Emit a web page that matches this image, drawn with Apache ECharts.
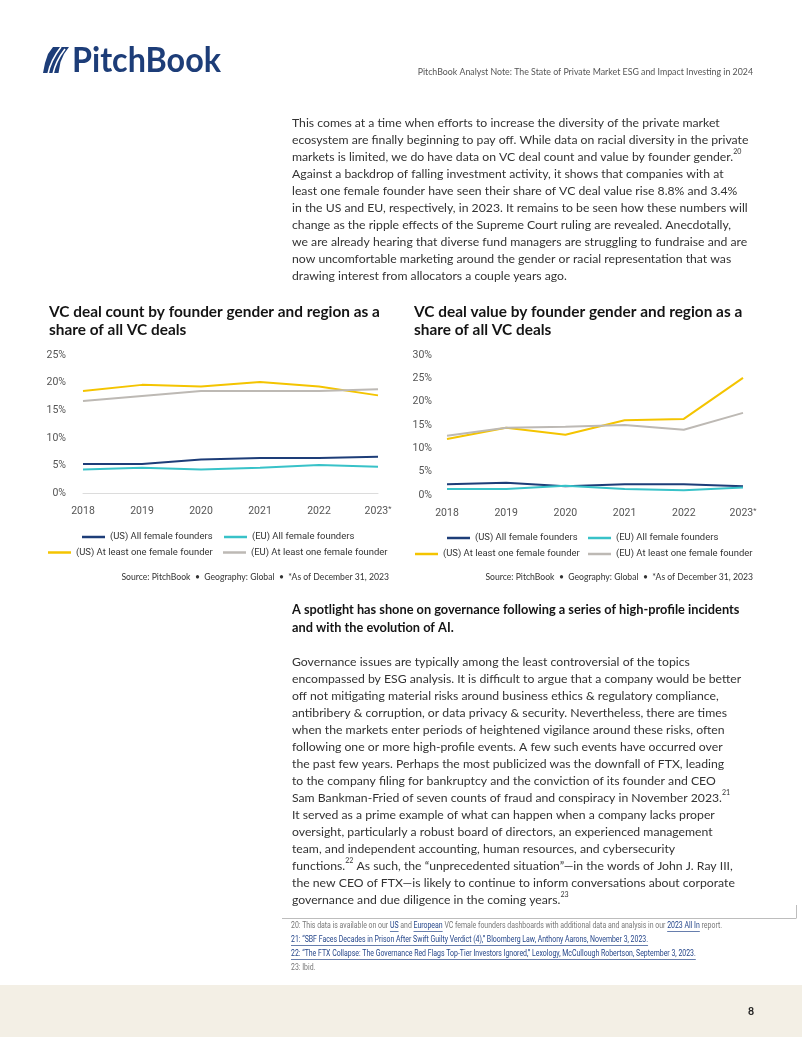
<!DOCTYPE html>
<html><head><meta charset="utf-8">
<script src="https://cdn.jsdelivr.net/npm/echarts@6/dist/echarts.min.js"></script>
<style>html,body{margin:0;padding:0;background:#fff}#c{width:802px;height:1037px}</style>
</head><body><div id="c"></div>
<script>
// ---------- DATA ----------
const years = ['2018','2019','2020','2021','2022','2023*'];
const seriesNames = ['(US) All female founders','(EU) All female founders','(US) At least one female founder','(EU) At least one female founder'];
// VC deal count share (%)
const countUSAll = [5.3,5.3,6.1,6.4,6.4,6.6];
const countEUAll = [4.3,4.6,4.3,4.6,5.1,4.8];
const countUSOne = [18.5,19.6,19.3,20.1,19.3,17.7];
const countEUOne = [16.7,17.6,18.5,18.5,18.5,18.8];
// VC deal value share (%)
const valueUSAll = [2.3,2.6,1.9,2.3,2.3,1.9];
const valueEUAll = [1.3,1.3,2.0,1.3,1.0,1.6];
const valueUSOne = [12.0,14.4,12.9,16.0,16.3,25.1];
const valueEUOne = [12.7,14.4,14.6,15.0,14.0,17.6];
// axis ranges
const countAxis = {min:0, max:25, interval:5};
const valueAxis = {min:0, max:30, interval:5};
// texts
const chart1Title = ['VC deal count by founder gender and region as a','share of all VC deals'];
const chart2Title = ['VC deal value by founder gender and region as a','share of all VC deals'];
const sourceText = 'Source: PitchBook  \u2022  Geography: Global  \u2022  *As of December 31, 2023';
const headerText = 'PitchBook Analyst Note: The State of Private Market ESG and Impact Investing in 2024';
const para1 = [
 'This comes at a time when efforts to increase the diversity of the private market',
 'ecosystem are finally beginning to pay off. While data on racial diversity in the private',
 'markets is limited, we do have data on VC deal count and value by founder gender.{sup|20}',
 'Against a backdrop of falling investment activity, it shows that companies with at',
 'least one female founder have seen their share of VC deal value rise 8.8% and 3.4%',
 'in the US and EU, respectively, in 2023. It remains to be seen how these numbers will',
 'change as the ripple effects of the Supreme Court ruling are revealed. Anecdotally,',
 'we are already hearing that diverse fund managers are struggling to fundraise and are',
 'now uncomfortable marketing around the gender or racial representation that was',
 'drawing interest from allocators a couple years ago.'
];
const heading2 = ['A spotlight has shone on governance following a series of high-profile incidents','and with the evolution of AI.'];
const para2 = [
 'Governance issues are typically among the least controversial of the topics',
 'encompassed by ESG analysis. It is difficult to argue that a company would be better',
 'off not mitigating material risks around business ethics & regulatory compliance,',
 'antibribery & corruption, or data privacy & security. Nevertheless, there are times',
 'when the markets enter periods of heightened vigilance around these risks, often',
 'following one or more high-profile events. A few such events have occurred over',
 'the past few years. Perhaps the most publicized was the downfall of FTX, leading',
 'to the company filing for bankruptcy and the conviction of its founder and CEO',
 'Sam Bankman-Fried of seven counts of fraud and conspiracy in November 2023.{sup|21}',
 'It served as a prime example of what can happen when a company lacks proper',
 'oversight, particularly a robust board of directors, an experienced management',
 'team, and independent accounting, human resources, and cybersecurity',
 'functions.{sup|22} As such, the \u201cunprecedented situation\u201d\u2014in the words of John J. Ray III,',
 'the new CEO of FTX\u2014is likely to continue to inform conversations about corporate',
 'governance and due diligence in the coming years.{sup|23}'
];
const footnotes = [
 [['20: This data is available on our ',0],['US',1],[' and ',0],['European',1],[' VC female founders dashboards with additional data and analysis in our ',0],['2023 All In',1],[' report.',0]],
 [['21: \u201cSBF Faces Decades in Prison After Swift Guilty Verdict (4),\u201d Bloomberg Law, Anthony Aarons, November 3, 2023.',1]],
 [['22: \u201cThe FTX Collapse: The Governance Red Flags Top-Tier Investors Ignored,\u201d Lexology, McCullough Robertson, September 3, 2023.',1]],
 [['23: Ibid.',0]]
];
const pageNumber = '8';

// ---------- STYLE ----------
const NAVY='#1d3d78', TEAL='#38c2c8', YELLOW='#f4c400', GREY='#bdb9b4';
const colors=[NAVY,TEAL,YELLOW,GREY];
const BODY='Lato', NARROW='Roboto';
const ctx=document.createElement('canvas').getContext('2d');
function mw(t,size,fam,wt){ctx.font=(wt||'normal')+' '+size+'px '+fam;return ctx.measureText(t.replace(/\{sup\|(\d+)\}/g,'')).width;}
function fit(t,target,fam,wt){return 20*target/mw(t,20,fam,wt);}

const bodySize=fit(para1[0],428,BODY);
const headSize=fit(heading2[0],447.6,BODY,'bold');
const titleSize=fit(chart1Title[0],331,BODY,'bold');
const legSize=fit(seriesNames[2],137,NARROW);
const tickSize=10.5;
const srcSize=fit(sourceText,268,BODY);
const hdrSize=fit(headerText,336,BODY);

const G=[];
function txt(x,y,text,o){o=o||{};
  const el={type:'text',x:x,y:y,z:10,silent:true,style:{text:text,fill:o.fill||'#333',fontFamily:o.family||BODY,fontSize:o.size,fontWeight:o.weight||'normal',align:o.align||'left',verticalAlign:'middle'}};
  if(o.lh) el.style.lineHeight=o.lh;
  if(o.rich) el.style.rich=o.rich;
  if(o.sx){el.scaleX=o.sx;}
  G.push(el);return el;}

// footer band
G.push({type:'rect',shape:{x:0,y:985,width:802,height:52},style:{fill:'#f3efe5'},silent:true});
txt(751,1012,pageNumber,{size:10.5,weight:'bold',fill:'#222',align:'center'});
// logo mark
G.push({type:'polygon',shape:{points:[[53,47],[69,47],[64,54],[60.5,62],[58.5,73],[43,73],[45,63],[48,54]]},style:{fill:NAVY},silent:true});
G.push({type:'bezierCurve',shape:{x1:48,y1:74,cpx1:50,cpy1:63,cpx2:54,cpy2:56,x2:61,y2:47},style:{stroke:'#fff',lineWidth:1.6,fill:null},silent:true});
G.push({type:'bezierCurve',shape:{x1:53,y1:74,cpx1:55,cpy1:64,cpx2:58,cpy2:58,x2:65,y2:49},style:{stroke:'#fff',lineWidth:1.6,fill:null},silent:true});
const logoSize=34;
txt(72,61,'PitchBook',{size:logoSize,weight:'bold',fill:NAVY,sx:149/mw('PitchBook',logoSize,BODY,'bold')});
txt(753,72,headerText,{size:hdrSize,fill:'#555',align:'right'});
// paragraphs
const supRich=(size,fill)=>({sup:{fontSize:size*0.58,lineHeight:11.5,verticalAlign:'top',fill:fill,fontFamily:BODY}});
para1.forEach((l,i)=>txt(292,123+i*17,l,{size:bodySize,fill:'#333',lh:17,rich:supRich(bodySize,'#333')}));
heading2.forEach((l,i)=>txt(292,610+i*18,l,{size:headSize,weight:'bold',fill:'#141414'}));
para2.forEach((l,i)=>txt(292,662+i*17,l,{size:bodySize,fill:'#333',lh:17,rich:supRich(bodySize,'#333')}));
// chart titles
chart1Title.forEach((l,i)=>txt(49,312+i*18.5,l,{size:titleSize,weight:'bold',fill:'#141414'}));
chart2Title.forEach((l,i)=>txt(414,312+i*18.5,l,{size:titleSize,weight:'bold',fill:'#141414'}));
// sources
txt(389,577,sourceText,{size:srcSize,fill:'#333',align:'right'});
txt(753,577,sourceText,{size:srcSize,fill:'#333',align:'right'});
// footnote box lines
G.push({type:'line',shape:{x1:282,y1:918.5,x2:796,y2:918.5},style:{stroke:'#bdbdbd',lineWidth:1},silent:true});
G.push({type:'line',shape:{x1:796.5,y1:905,x2:796.5,y2:918.5},style:{stroke:'#bdbdbd',lineWidth:1},silent:true});
// footnotes
const fnSize=9, fnSx=431/mw(footnotes[0].map(s=>s[0]).join(''),fnSize,NARROW);
const fnY=[926,940,954,968];
footnotes.forEach((segs,i)=>{
  let rich={g:{fill:'#777',fontSize:fnSize,fontFamily:NARROW},l:{fill:'#25468a',fontSize:fnSize,fontFamily:NARROW}};
  let t=segs.map(s=>'{'+(s[1]?'l':'g')+'|'+s[0]+'}').join('');
  txt(291,fnY[i],t,{size:fnSize,family:NARROW,rich:rich,sx:fnSx});
  let off=0;
  segs.forEach(s=>{const w=mw(s[0],fnSize,NARROW);
    if(s[1]){let x1=291+off*fnSx,x2=291+(off+w)*fnSx;
      G.push({type:'line',shape:{x1:x1,y1:fnY[i]+5.5,x2:x2,y2:fnY[i]+5.5},style:{stroke:'#25468a',lineWidth:0.7},silent:true});}
    off+=w;});
});

// ---------- CHARTS ----------
function leg(name,left,y){return {show:true,data:[name],left:left,top:y-7,padding:0,itemWidth:23,itemHeight:2.5,icon:'rect',selectedMode:false,
  textStyle:{fontFamily:NARROW,fontSize:legSize,color:'#333',lineHeight:14}};}
const axisLbl={fontFamily:NARROW,fontSize:tickSize,color:'#555'};
function xAx(gi,showLine){return {type:'category',gridIndex:gi,data:years,boundaryGap:false,
  axisLine:{show:showLine,lineStyle:{color:'#dcdcdc',width:1}},axisTick:{show:false},
  axisLabel:Object.assign({margin:12.5,interval:0,rich:{s:{fontFamily:NARROW,fontSize:tickSize*0.7,color:'#555',verticalAlign:'top',lineHeight:8}},
   formatter:v=>v.endsWith('*')?v.slice(0,-1)+'{s|*}':v},axisLbl)};}
function yAx(gi,r,margin){return {type:'value',gridIndex:gi,min:r.min,max:r.max,interval:r.interval,
  axisLine:{show:false},axisTick:{show:false},splitLine:{show:false},
  axisLabel:Object.assign({margin:margin,formatter:'{value}%'},axisLbl)};}
function ser(name,data,gi,c){return {type:'line',name:name,data:data,xAxisIndex:gi,yAxisIndex:gi,symbol:'none',
  lineStyle:{width:2,color:c},itemStyle:{color:c},emphasis:{disabled:true}};}

const countSets=[countUSAll,countEUAll,countUSOne,countEUOne];
const valueSets=[valueUSAll,valueEUAll,valueUSOne,valueEUOne];
const series=[];
seriesNames.forEach((n,i)=>series.push(ser(n,countSets[i],0,colors[i])));
seriesNames.forEach((n,i)=>series.push(ser(n,valueSets[i],1,colors[i])));

const chart=echarts.init(document.getElementById('c'),null,{renderer:'canvas'});
chart.setOption({
  backgroundColor:'#fff',animation:false,
  grid:[{left:83,top:355,width:295,height:138.3},{left:447,top:355,width:296,height:140}],
  xAxis:[xAx(0,true),xAx(1,false)],
  yAxis:[yAx(0,countAxis,17),yAx(1,valueAxis,15)],
  legend:[
    leg(seriesNames[0],82,537),leg(seriesNames[1],224,537),
    leg(seriesNames[2],48,552.5),leg(seriesNames[3],223,552.5),
    leg(seriesNames[0],447,538),leg(seriesNames[1],588,538),
    leg(seriesNames[2],415,554),leg(seriesNames[3],588,554)
  ],
  series:series,
  graphic:{elements:G}
});
</script></body></html>
